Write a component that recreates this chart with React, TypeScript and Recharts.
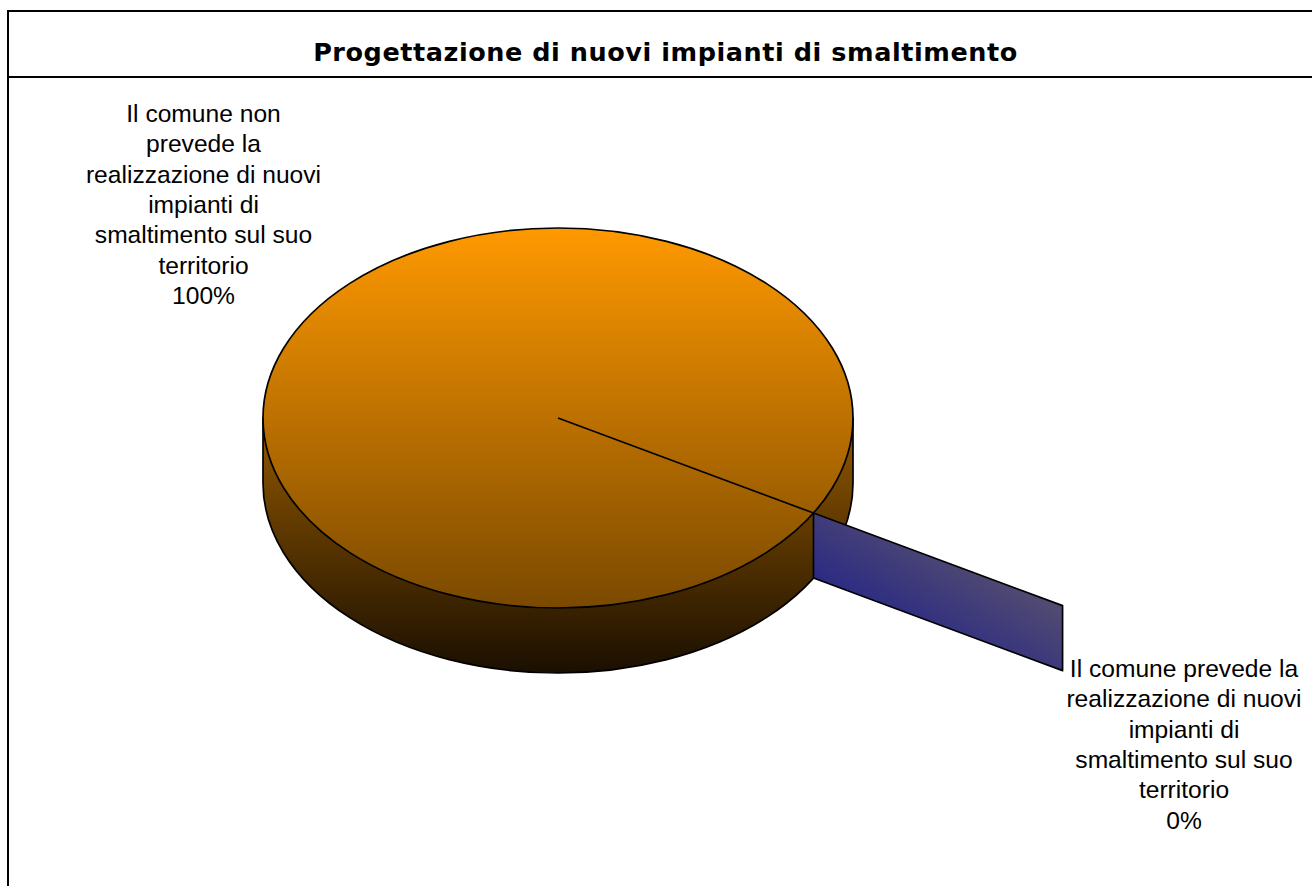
import React from 'react';
import { PieChart, Pie } from 'recharts';

const TITLE = 'Progettazione di nuovi impianti di smaltimento';
const CATEGORIES = [
  'Il comune non prevede la realizzazione di nuovi impianti di smaltimento sul suo territorio',
  'Il comune prevede la realizzazione di nuovi impianti di smaltimento sul suo territorio',
];
const VALUES = [100, 0];
const PERCENT_LABELS = ['100%', '0%'];
const LABEL_LINES = [
  ['Il comune non', 'prevede la', 'realizzazione di nuovi', 'impianti di', 'smaltimento sul suo', 'territorio', '100%'],
  ['Il comune prevede la', 'realizzazione di nuovi', 'impianti di', 'smaltimento sul suo', 'territorio', '0%'],
];
const data = CATEGORIES.map((name, i) => ({ name, value: VALUES[i], pct: PERCENT_LABELS[i] }));

const CX = 558;
const CY = 418;
const R = 295;
const Y_SCALE = 190 / 295;
const DEPTH = 65;
const EXPLODE = 0.975;
const RAD = Math.PI / 180;
const STROKE = 1.7;

const Slice = (props: any) => {
  const { cx, cy, outerRadius: r, startAngle, endAngle, index } = props;
  const ry = r * Y_SCALE;
  const a = (index === 0 ? startAngle : endAngle) * RAD;
  const rimX = cx + r * Math.cos(-a);
  const rimY = cy + ry * Math.sin(-a);
  if (index === 0) {
    return (
      <g>
        <defs>
          <linearGradient id="topFace" gradientUnits="userSpaceOnUse" x1="0" x2="0" y1={cy - ry} y2={cy + ry}>
            <stop offset="0" stopColor="#ff9900" />
            <stop offset="1" stopColor="#7a4900" />
          </linearGradient>
          <linearGradient id="wall" gradientUnits="userSpaceOnUse" x1="0" x2="0" y1={cy} y2={cy + ry + DEPTH}>
            <stop offset="0" stopColor="#945900" />
            <stop offset="1" stopColor="#1a0f00" />
          </linearGradient>
        </defs>
        <path
          d={`M${cx - r},${cy} L${cx - r},${cy + DEPTH} A${r},${ry} 0 0 0 ${cx + r},${cy + DEPTH} L${cx + r},${cy} Z`}
          fill="url(#wall)"
          stroke="#000"
          strokeWidth={STROKE}
        />
        <ellipse cx={cx} cy={cy} rx={r} ry={ry} fill="url(#topFace)" stroke="#000" strokeWidth={STROKE} />
        <line x1={cx} y1={cy} x2={rimX} y2={rimY} stroke="#000" strokeWidth={STROKE} />
      </g>
    );
  }
  const dx = (rimX - cx) * EXPLODE;
  const dy = (rimY - cy) * EXPLODE;
  return (
    <g>
      <defs>
        <linearGradient id="blueWall" gradientUnits="userSpaceOnUse" x1={rimX + 5} y1={rimY + DEPTH + 5} x2={rimX + 55} y2={rimY - 15}>
          <stop offset="0" stopColor="#2a2a84" />
          <stop offset="1" stopColor="#514a72" />
        </linearGradient>
      </defs>
      <path
        d={`M${rimX},${rimY} L${rimX + dx},${rimY + dy} L${rimX + dx},${rimY + dy + DEPTH} L${rimX},${rimY + DEPTH} Z`}
        fill="url(#blueWall)"
        stroke="#000"
        strokeWidth={STROKE}
        strokeLinejoin="round"
      />
    </g>
  );
};

const LABEL_CENTER = [
  { dx: -354.5, top: -296 },
  { dx: 626, top: 259 },
];
const LABEL_LEADING = 30.3;
const LABEL_FONT = 24.6;

const SliceLabel = (props: any) => {
  const { cx, cy, index } = props;
  const pos = LABEL_CENTER[index];
  const x = cx + pos.dx;
  return (
    <text x={x} y={cy + pos.top} textAnchor="middle" fontFamily="'Liberation Sans', Arial, sans-serif" fontSize={LABEL_FONT} fill="#000" style={{ fontSize: LABEL_FONT }}>
      {LABEL_LINES[index].map((line, i) => (
        <tspan key={i} x={x} y={cy + pos.top + i * LABEL_LEADING}>
          {line}
        </tspan>
      ))}
    </text>
  );
};

export default function App() {
  return (
    <div style={{ position: 'absolute', left: 0, top: 0, width: 1312, height: 886, overflow: 'hidden', background: '#fff' }}>
      <div style={{ position: 'absolute', left: 7, top: 10, width: 1400, height: 1000, borderLeft: '2px solid #000', borderTop: '2px solid #000' }} />
      <div style={{ position: 'absolute', left: 7, top: 76, width: 1400, height: 2, background: '#000' }} />
      <div
        style={{
          position: 'absolute',
          left: 0,
          top: 39,
          width: 1331,
          textAlign: 'center',
          fontFamily: "'DejaVu Sans', Verdana, sans-serif",
          fontWeight: 'bold',
          fontSize: 25.5,
          letterSpacing: 0.56,
          lineHeight: '26px',
          color: '#000',
          whiteSpace: 'nowrap',
        }}
      >
        {TITLE}
      </div>
      <div style={{ position: 'absolute', left: 0, top: 0 }}>
        <PieChart width={1312} height={886} margin={{ top: 0, right: 0, bottom: 0, left: 0 }}>
          <Pie
            data={data}
            dataKey="value"
            nameKey="name"
            cx={CX}
            cy={CY}
            outerRadius={R}
            startAngle={-30}
            endAngle={-390}
            paddingAngle={0}
            stroke="none"
            shape={Slice}
            label={SliceLabel}
            labelLine={false}
            isAnimationActive={false}
          />
        </PieChart>
      </div>
    </div>
  );
}
